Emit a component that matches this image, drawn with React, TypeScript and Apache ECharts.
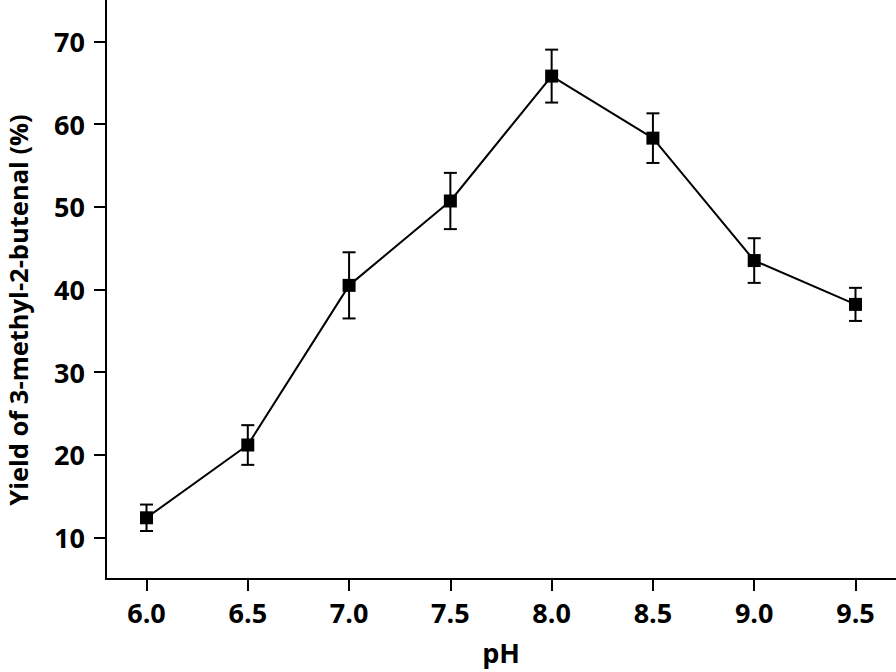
import React, { useEffect, useRef } from "react";
import * as echarts from "echarts";

const phValues = [6.0, 6.5, 7.0, 7.5, 8.0, 8.5, 9.0, 9.5];
const yieldValues = [12.4, 21.2, 40.5, 50.7, 65.8, 58.3, 43.5, 38.2];
const yieldErrors = [1.6, 2.4, 4.0, 3.4, 3.2, 3.0, 2.7, 2.0];
const xTickValues = [6.0, 6.5, 7.0, 7.5, 8.0, 8.5, 9.0, 9.5];
const yTickValues = [10, 20, 30, 40, 50, 60, 70];
const xTitle = "pH";
const yTitle = "Yield of 3-methyl-2-butenal (%)";

const FONT = "'Open Sans', 'Liberation Sans', sans-serif";

export default function App() {
  const ref = useRef<HTMLDivElement>(null);
  useEffect(() => {
    if (!ref.current) return;
    const chart = echarts.init(ref.current, null, { renderer: "svg" });
    const lineData = phValues.map((x, i) => [x, yieldValues[i]]);
    const errData = phValues.map((x, i) => [x, yieldValues[i] - yieldErrors[i], yieldValues[i] + yieldErrors[i]]);
    const labelStyle = { color: "#000", fontFamily: FONT, fontWeight: "bold" as const, fontSize: 27 };
    chart.setOption({
      animation: false,
      backgroundColor: "#fff",
      grid: { left: 106, right: 0, top: 0, bottom: 93, containLabel: false, outerBoundsMode: "none" },
      graphic: [
        {
          type: "text",
          x: 18,
          y: 310,
          rotation: Math.PI / 2,
          style: {
            text: yTitle,
            fill: "#000",
            fontFamily: FONT,
            fontWeight: "bold",
            fontSize: 25.5,
            lineHeight: 26,
            align: "center",
            verticalAlign: "middle",
          },
        },
      ],
      xAxis: {
        type: "value",
        min: 5.8,
        max: 9.7,
        name: xTitle,
        nameLocation: "middle",
        nameGap: 60,
        nameTextStyle: { ...labelStyle },
        axisLine: { show: true, onZero: false, lineStyle: { color: "#000", width: 2 } },
        axisTick: { show: true, length: 12, customValues: xTickValues, lineStyle: { color: "#000", width: 2 } },
        axisLabel: {
          ...labelStyle,
          margin: 20,
          customValues: xTickValues,
          formatter: (v: number) => v.toFixed(1),
        },
        splitLine: { show: false },
      },
      yAxis: {
        type: "value",
        min: 5,
        max: 75,
        axisLine: { show: true, onZero: false, lineStyle: { color: "#000", width: 2 } },
        axisTick: { show: true, length: 12, customValues: yTickValues, lineStyle: { color: "#000", width: 2 } },
        axisLabel: { ...labelStyle, margin: 21, customValues: yTickValues },
        splitLine: { show: false },
      },
      series: [
        {
          type: "line",
          data: lineData,
          symbol: "rect",
          symbolSize: 13,
          itemStyle: { color: "#000" },
          lineStyle: { color: "#000", width: 2 },
          z: 3,
        },
        {
          type: "custom",
          data: errData,
          z: 4,
          renderItem: (params: any, api: any) => {
            const x = api.value(0);
            const lo = api.coord([x, api.value(1)]);
            const hi = api.coord([x, api.value(2)]);
            const hw = 6.5;
            const style = { stroke: "#000", lineWidth: 2, fill: "none" };
            return {
              type: "group",
              children: [
                { type: "line", shape: { x1: lo[0], y1: lo[1], x2: hi[0], y2: hi[1] }, style },
                { type: "line", shape: { x1: lo[0] - hw, y1: lo[1], x2: lo[0] + hw, y2: lo[1] }, style },
                { type: "line", shape: { x1: hi[0] - hw, y1: hi[1], x2: hi[0] + hw, y2: hi[1] }, style },
              ],
            };
          },
        },
      ],
    });
    return () => chart.dispose();
  }, []);
  return (
    <div
      ref={ref}
      style={{ position: "absolute", left: 0, top: 0, width: 896, height: 672, background: "#fff" }}
    />
  );
}
